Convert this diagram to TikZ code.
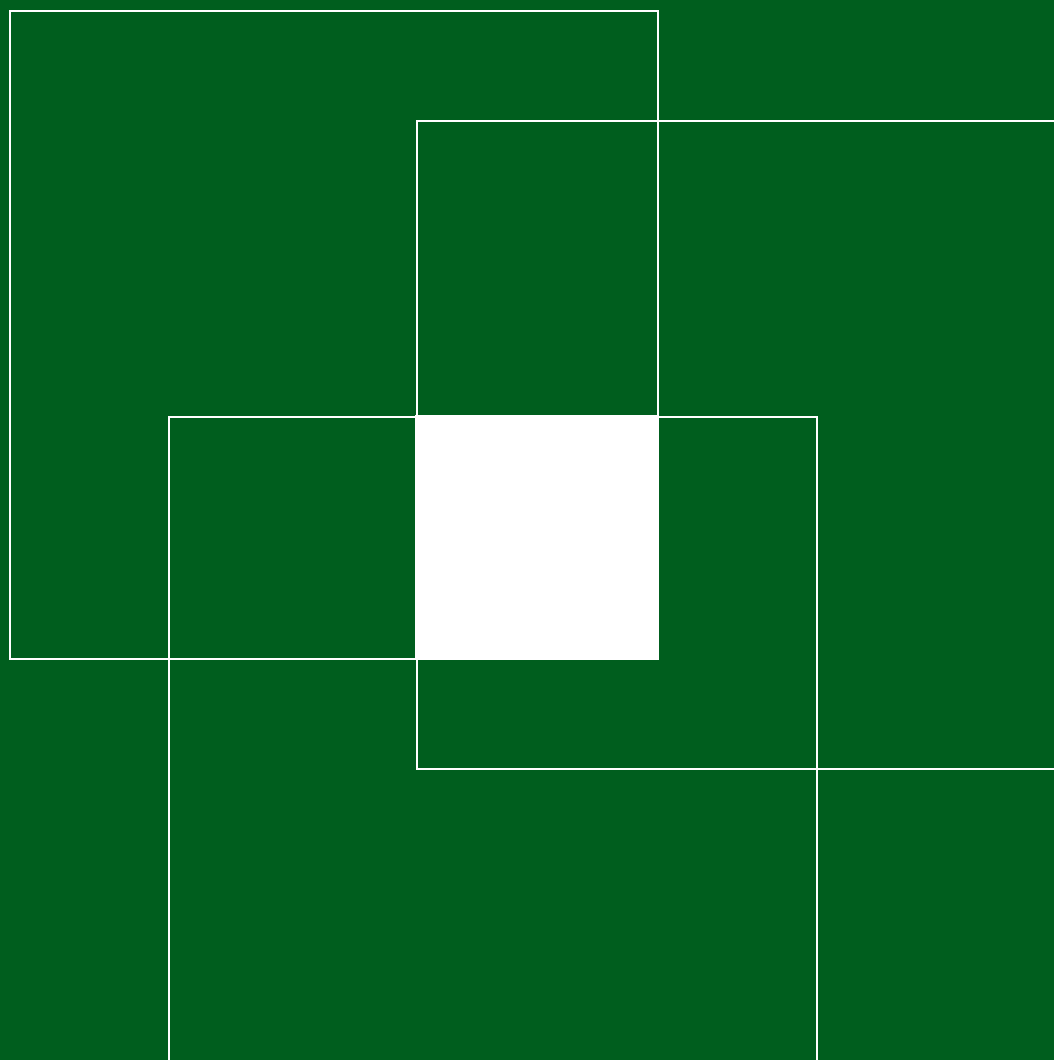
\documentclass[tikz,border=0pt]{standalone}
\definecolor{bg}{RGB}{0,94,30}
\tikzset{sq/.style={draw=white,line width=2.2pt}}
\begin{document}
\begin{tikzpicture}[x=1pt,y=-1pt]
\useasboundingbox (0,0) rectangle (1054,1060);
\fill[bg] (0,0) rectangle (1054,1060);
\clip (0,0) rectangle (1054,1060);
\fill[white] (415,415) rectangle (658,658);
\node[sq,minimum size=648pt,inner sep=0pt,anchor=north west] (a) at (8.5,9.5) {};
\node[sq,minimum size=648pt,inner sep=0pt,anchor=north west] (b) at (415.5,119.5) {};
\node[sq,minimum size=648pt,inner sep=0pt,anchor=north west] (c) at (167.5,415.5) {};
\end{tikzpicture}
\end{document}
